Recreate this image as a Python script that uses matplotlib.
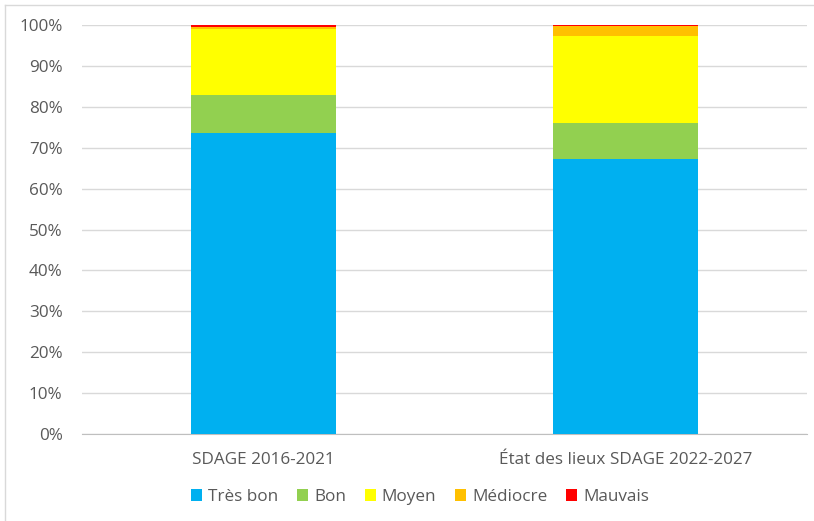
import matplotlib
matplotlib.use("Agg")
import matplotlib.pyplot as plt
from matplotlib.ticker import PercentFormatter

# ============================================================
# Data (percent of water bodies by state class)
# ============================================================
categories = ["SDAGE 2016-2021", "État des lieux SDAGE 2022-2027"]
classes = ["Très bon", "Bon", "Moyen", "Médiocre", "Mauvais"]
tres_bon = [73.6, 67.2]
bon = [9.3, 8.9]
moyen = [16.1, 21.3]
mediocre = [0.6, 2.4]
mauvais = [0.4, 0.2]
colors = ["#00B0F0", "#92D050", "#FFFF00", "#FFC000", "#FF0000"]

plt.rcParams["font.family"] = ["Open Sans", "DejaVu Sans"]
text_color = "#595959"
fs = 12.3

fig = plt.figure(figsize=(8.14, 5.21), dpi=100)
ax = fig.add_axes([82 / 814, 87 / 521, 725 / 814, 409 / 521])

x = list(range(len(categories)))
bottom = [0.0] * len(categories)
for name, vals, col in zip(classes, [tres_bon, bon, moyen, mediocre, mauvais], colors):
    ax.bar(x, vals, width=0.4, bottom=bottom, color=col, label=name, zorder=3)
    bottom = [b + v for b, v in zip(bottom, vals)]

ax.set_xlim(-0.5, len(categories) - 0.5)
ax.set_ylim(0, 100)
ax.set_yticks(range(0, 101, 10))
ax.yaxis.set_major_formatter(PercentFormatter(decimals=0))
ax.set_xticks(x)
ax.set_xticklabels(categories)
ax.grid(axis="y", color="#D9D9D9", linewidth=1, zorder=0)
for side in ["top", "right", "left"]:
    ax.spines[side].set_visible(False)
ax.spines["bottom"].set_color("#BFBFBF")
ax.tick_params(axis="both", length=0, labelsize=fs, colors=text_color)
ax.tick_params(axis="x", pad=13)
ax.tick_params(axis="y", pad=14)

leg = fig.legend(loc="center", bbox_to_anchor=(420 / 814, 1 - 497 / 521), ncol=5,
                 frameon=False, fontsize=fs, handlelength=0.65, handleheight=0.65,
                 handletextpad=0.35, columnspacing=1.1)
for t in leg.get_texts():
    t.set_color(text_color)

# chart-area border (top and left edges visible in the cropped export)
fig.add_artist(plt.Line2D([4.5 / 814, 1], [1 - 4.5 / 521] * 2, color="#D9D9D9", linewidth=1))
fig.add_artist(plt.Line2D([4.5 / 814] * 2, [0, 1 - 4.5 / 521], color="#D9D9D9", linewidth=1))

fig.savefig("out.png", dpi=100)
plt.close(fig)
